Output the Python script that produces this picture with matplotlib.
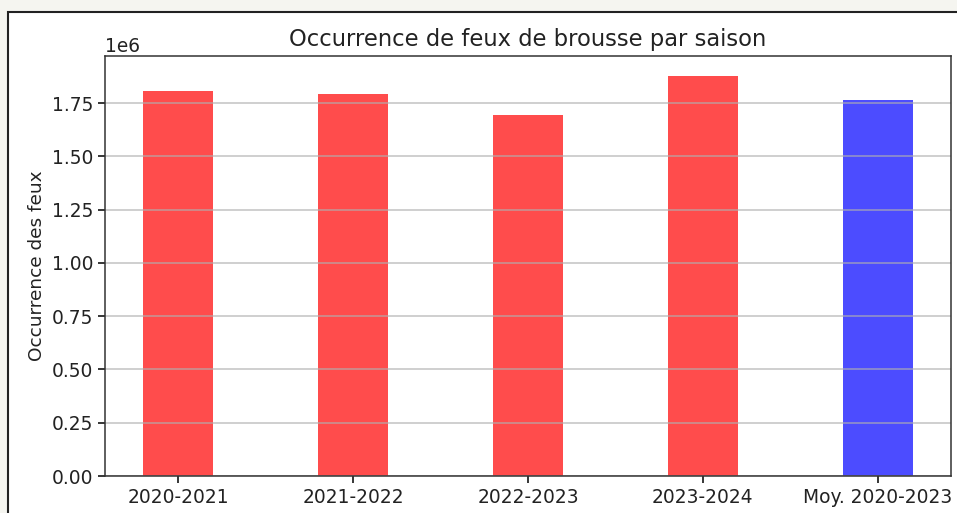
import matplotlib
matplotlib.use("Agg")
import matplotlib.pyplot as plt
from matplotlib.patches import Rectangle

# seasons and fire counts
saisons = ["2020-2021", "2021-2022", "2022-2023", "2023-2024", "Moy. 2020-2023"]
occurrences = [1.807e6, 1.792e6, 1.695e6, 1.877e6, 1.765e6]
couleurs = ["red", "red", "red", "red", "blue"]

W, H = 957, 513
fig = plt.figure(figsize=(W / 100, H / 100), dpi=100)
fig.patch.set_facecolor("#f5f5f0")

# white frame of the screenshot, drawn under the axes
frame = Rectangle((8 / W, -0.1), 1.2, (H - 12) / H + 0.1, transform=fig.transFigure,
                  facecolor="white", edgecolor="#222222", linewidth=1.5, zorder=-1)
fig.patches.append(frame)

txt = "#222222"
ax = fig.add_axes([105 / W, 37 / H, 846 / W, 420 / H])
ax.bar(saisons, occurrences, width=0.4, color=couleurs, alpha=0.7)
ax.grid(axis="y", linewidth=1.2, alpha=0.7)

ax.set_title("Occurrence de feux de brousse par saison", fontsize=16.3, pad=7, color=txt)
ax.set_ylabel("Occurrence des feux", fontsize=13.3, color=txt)
ax.tick_params(labelsize=13.4, length=5, width=1.1, labelcolor=txt)
ax.yaxis.get_offset_text().set_fontsize(13.4)
ax.yaxis.get_offset_text().set_color(txt)
for s in ax.spines.values():
    s.set_linewidth(1.1)
    s.set_color("#333333")

fig.savefig("out.png", dpi=100, facecolor=fig.get_facecolor())
